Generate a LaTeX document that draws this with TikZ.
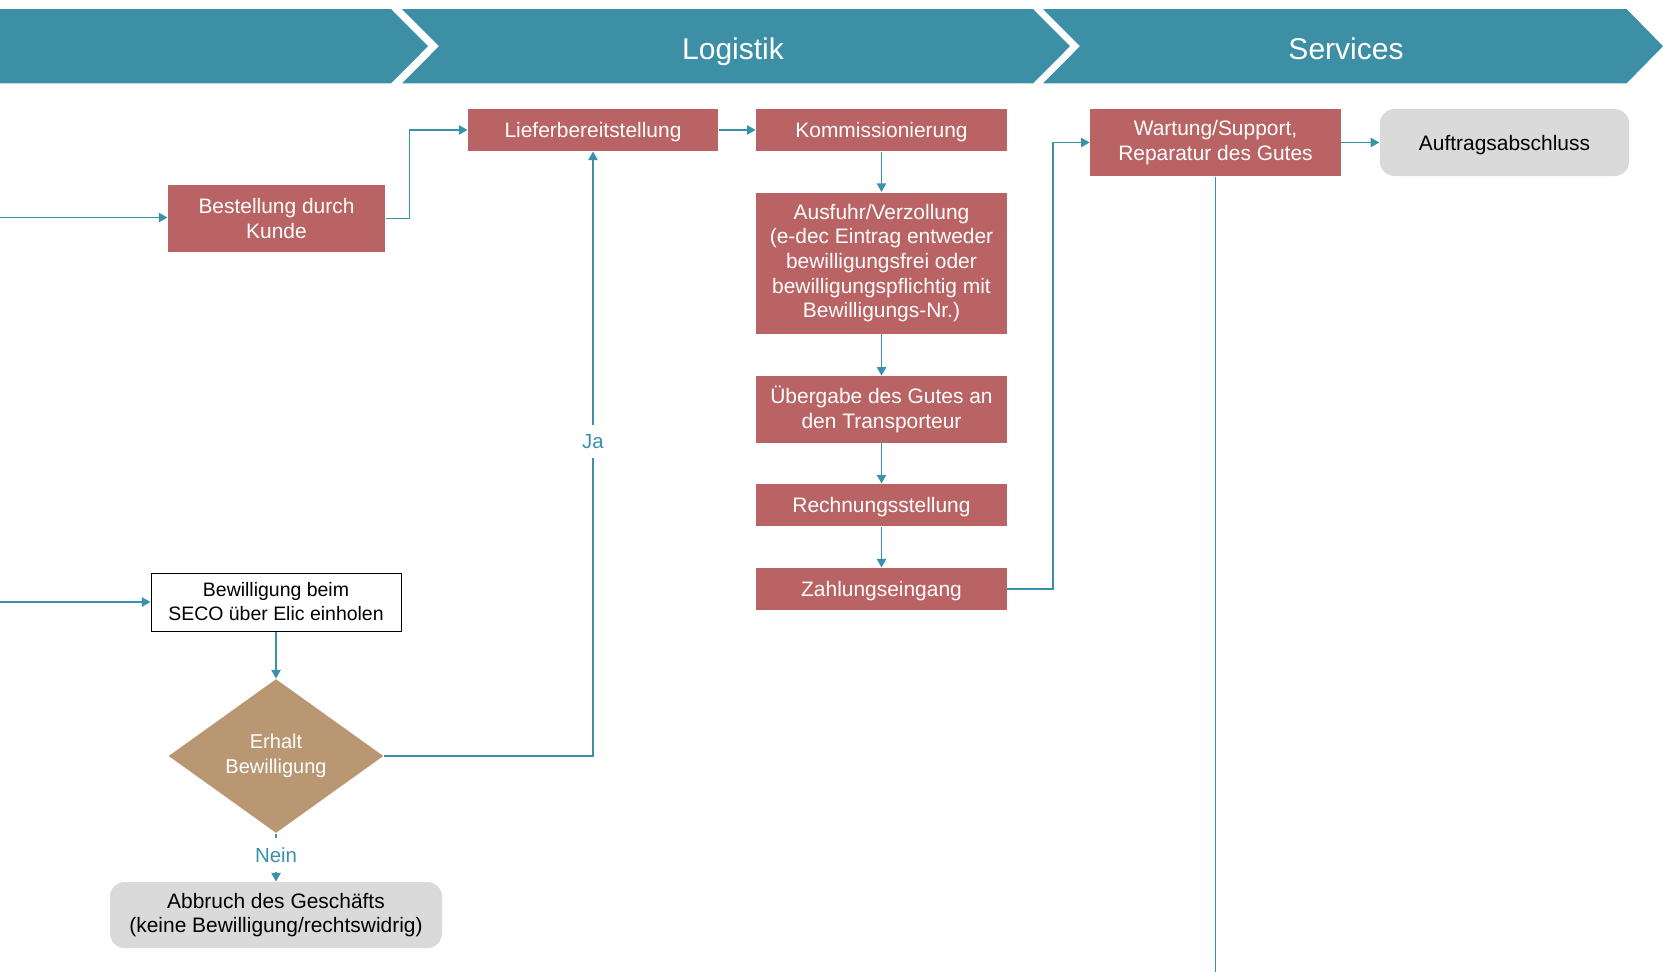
\documentclass[tikz,border=0pt]{standalone}
\usepackage{fontspec}
\setmainfont{Liberation Sans}
\usetikzlibrary{shapes.geometric,arrows.meta}

\definecolor{bandteal}{RGB}{61,143,166}
\definecolor{lineteal}{RGB}{58,146,170}
\definecolor{boxred}{RGB}{185,99,100}
\definecolor{diatan}{RGB}{184,151,114}
\definecolor{endgray}{RGB}{217,218,217}

\tikzset{every picture/.style={line width=0.75pt}}
\tikzset{
  stepbox/.style={fill=boxred, text=white, align=center, inner sep=0pt, minimum width=188pt, font=\fontsize{15.7}{18.5}\selectfont},
  endbox/.style={fill=endgray, rounded corners=11pt, text=black, align=center, inner sep=0pt, font=\fontsize{15.7}{18.5}\selectfont},
  oneline/.style={text height=14pt, text depth=2.7pt},
  askbox/.style={draw=black, fill=white, text=black, align=center, inner sep=0pt, font=\fontsize{14.6}{18}\selectfont},
  decide/.style={diamond, fill=diatan, text=white, align=center, inner sep=0pt, font=\fontsize{15}{18.5}\selectfont},
  flow/.style={draw=lineteal, line width=1.1pt, -{Triangle[length=6.5pt,width=7pt]}},
  flowlabel/.style={fill=white, text=lineteal, inner xsep=2pt, inner ysep=7pt, font=\fontsize{15.3}{19}\selectfont},
  band/.style={fill=bandteal},
  bandtitle/.style={text=white, anchor=base, font=\fontsize{22.5}{26}\selectfont}
}

\begin{document}
\begin{tikzpicture}[x=0.75pt,y=0.75pt,yscale=-1,xscale=1]
    \useasboundingbox (0,0) rectangle (1663,971);

    %Header chevrons
    \fill [band] (-5,9) -- (391,9) -- (428,46.2) -- (391,83.4) -- (-5,83.4) -- cycle ;
    \fill [band] (402,9) -- (1033,9) -- (1070,46.2) -- (1033,83.4) -- (402,83.4) -- (439,46.2) -- cycle ;
    \fill [band] (1043,9) -- (1626.5,9) -- (1663,46.2) -- (1626.5,83.4) -- (1043,83.4) -- (1080,46.2) -- cycle ;
    \node [bandtitle] (logistik) at (733,59) {Logistik};
    \node [bandtitle] (services) at (1346,59) {Services};

    %Order and logistics steps
    \node [stepbox, minimum width=162.75pt, minimum height=50.25pt] (bestellung) at (276.5,218.5) {Bestellung durch\\Kunde};
    \node [stepbox, oneline, minimum width=187.5pt, minimum height=31.5pt] (liefer) at (593,130) {Lieferbereitstellung};
    \node [stepbox, oneline, minimum height=31.5pt] (kommission) at (881.5,130) {Kommissionierung};
    \node [stepbox, minimum height=105.75pt] (ausfuhr) at (881.5,263) {Ausfuhr/Verzollung\\(e-dec Eintrag entweder\\bewilligungsfrei oder\\bewilligungspflichtig mit\\Bewilligungs-Nr.)};
    \node [stepbox, minimum height=50pt] (uebergabe) at (881.5,409.5) {Übergabe des Gutes an\\den Transporteur};
    \node [stepbox, oneline, minimum height=31.5pt] (rechnung) at (881.5,505) {Rechnungsstellung};
    \node [stepbox, oneline, minimum height=31.5pt] (zahlung) at (881.5,589) {Zahlungseingang};

    %Services
    \node [stepbox, minimum height=50.25pt] (wartung) at (1215.5,142.5) {Wartung/Support,\\Reparatur des Gutes};
    \node [endbox, oneline, minimum width=187pt, minimum height=50.25pt] (auftrag) at (1504.5,142.5) {Auftragsabschluss};

    %Licence branch
    \node [askbox, minimum width=187.5pt, minimum height=43.5pt] (bewilligung) at (276,602) {Bewilligung beim\\SECO über Elic einholen};
    \node [decide, minimum width=161.25pt, minimum height=115.5pt] (erhalt) at (276,756) {Erhalt\\Bewilligung};
    \node [endbox, minimum width=249pt, minimum height=49.5pt] (abbruch) at (276,915) {Abbruch des Geschäfts\\(keine Bewilligung/rechtswidrig)};

    %Free ends
    \coordinate (inOrder) at (0,217.5);
    \coordinate (inLicence) at (0,602);
    \coordinate (outService) at (1215.5,975);

    %Connectors
    \draw [flow] (inOrder) -- (inOrder -| bestellung.west);
    \draw [flow] (bestellung.east) -- ++(24,0) |- (liefer.west);
    \draw [flow] (liefer.east) -- (kommission.west);
    \draw [flow] (kommission.south) -- (ausfuhr.north);
    \draw [flow] (ausfuhr.south) -- (uebergabe.north);
    \draw [flow] (uebergabe.south) -- (rechnung.north);
    \draw [flow] (rechnung.south) -- (zahlung.north);
    \draw [flow] (zahlung.east) -- ++(45.5,0) |- (wartung.west);
    \draw [flow] (wartung.east) -- (auftrag.west);
    \draw [draw=lineteal, line width=1.1pt] (wartung.south) -- (outService);
    \draw [flow] (inLicence) -- (bewilligung.west);
    \draw [flow] (bewilligung.south) -- (erhalt.north);
    \draw [flow] (erhalt.east) -| node [flowlabel, pos=0.76] (ja) {Ja} (liefer.south);
    \draw [flow] (erhalt.south) -- node [flowlabel, pos=0.45] (nein) {Nein} (abbruch.north);

\end{tikzpicture}
\end{document}
